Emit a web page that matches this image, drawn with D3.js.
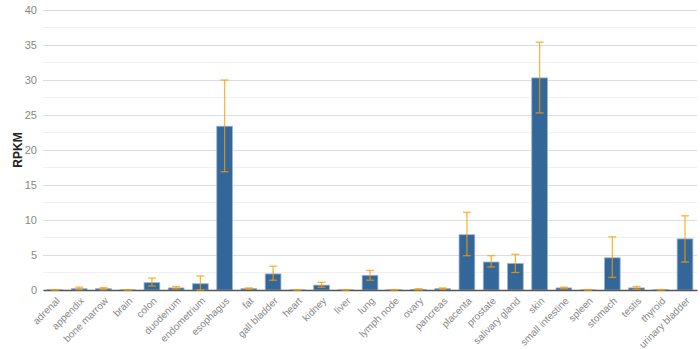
<!DOCTYPE html>
<html><head><meta charset="utf-8">
<script src="https://cdn.jsdelivr.net/npm/d3@7"></script>
<style>body{margin:0;background:#fff}svg{display:block}</style>
</head><body>
<svg id="c" width="700" height="349"></svg>
<script>
const categories = ["adrenal","appendix","bone marrow","brain","colon","duodenum","endometrium","esophagus","fat","gall bladder","heart","kidney","liver","lung","lymph node","ovary","pancreas","placenta","prostate","salivary gland","skin","small intestine","spleen","stomach","testis","thyroid","urinary bladder"];
const values = [0.02,0.2,0.2,0.02,1.05,0.3,0.9,23.4,0.2,2.3,0.02,0.7,0.02,2.1,0.02,0.05,0.2,7.9,4.0,3.8,30.3,0.3,0.02,4.6,0.3,0.03,7.3];
const errHigh = [0.05,0.4,0.35,0.05,1.7,0.5,2.0,30.0,0.3,3.4,0.05,1.1,0.05,2.8,0.05,0.2,0.3,11.1,4.9,5.1,35.4,0.4,0.05,7.6,0.5,0.06,10.6];
const errLow = [0,0.05,0.05,0,0.57,0.15,0,16.9,0.1,1.4,0,0.4,0,1.4,0,0,0.1,4.9,3.3,2.5,25.3,0.2,0,1.8,0.1,0,4.0];
const yTicks = [0,5,10,15,20,25,30,35,40];
const yMinor = [2.5,7.5,12.5,17.5,22.5,27.5,32.5,37.5];

const svg = d3.select("#c");
const m = {l:43, r:3, t:10, b:59};
const W = 700, H = 349;
const font = "Arial, 'Liberation Sans', sans-serif";
const x = d3.scaleBand().domain(categories).range([m.l, W-m.r]).paddingInner(0.35).paddingOuter(0.17);
const y = d3.scaleLinear().domain([0,40]).range([H-m.b, m.t]);

svg.append("g").selectAll("line").data(yMinor).join("line")
  .attr("x1", m.l).attr("x2", W-m.r).attr("y1", d=>y(d)).attr("y2", d=>y(d))
  .attr("stroke", "#f0f0f0").attr("stroke-width", 1);
const ya = svg.append("g").attr("transform", `translate(${m.l},0)`)
  .call(d3.axisLeft(y).tickValues(yTicks).tickSize(-(W-m.l-m.r)).tickPadding(6));
ya.select(".domain").remove();
ya.selectAll(".tick line").attr("stroke", "#dcdcdc");
ya.selectAll(".tick text").attr("fill", "#888").style("font-family",font).style("font-size","11px");

svg.append("text").attr("transform", `translate(22,${(m.t+H-m.b)/2}) rotate(-90)`)
  .attr("text-anchor","middle").attr("font-family",font)
  .attr("font-size","12px").attr("font-weight","bold").attr("fill","#222").text("RPKM");

svg.append("g").selectAll("rect").data(categories).join("rect")
  .attr("x", d=>x(d)).attr("width", x.bandwidth())
  .attr("y", (d,i)=>y(values[i])).attr("height", (d,i)=>y(0)-y(values[i]))
  .attr("fill", "#336699").attr("stroke", "#9fb6cf").attr("stroke-width", 0.8);

const xa = svg.append("g").attr("transform", `translate(0,${y(0)})`)
  .call(d3.axisBottom(x).tickSize(0).tickPadding(0));
xa.select(".domain").attr("stroke","#555").attr("stroke-width",1.5);
xa.selectAll(".tick text").attr("fill","#888").style("font-family",font).style("font-size","10px")
  .attr("x",0).attr("y",0).attr("dx",0).attr("dy","0.35em")
  .attr("text-anchor","end").attr("transform","translate(3,9) rotate(-45)");

const eg = svg.append("g").attr("stroke","#ff9900").attr("stroke-opacity",0.75).attr("stroke-width",1.3);
categories.forEach((c,i)=>{
  const cx = x(c) + x.bandwidth()/2, hw = 4;
  eg.append("line").attr("x1",cx).attr("x2",cx).attr("y1",y(errHigh[i])).attr("y2",y(errLow[i]));
  eg.append("line").attr("x1",cx-hw).attr("x2",cx+hw).attr("y1",y(errHigh[i])).attr("y2",y(errHigh[i]));
  eg.append("line").attr("x1",cx-hw).attr("x2",cx+hw).attr("y1",y(errLow[i])).attr("y2",y(errLow[i]));
});
</script>
</body></html>
